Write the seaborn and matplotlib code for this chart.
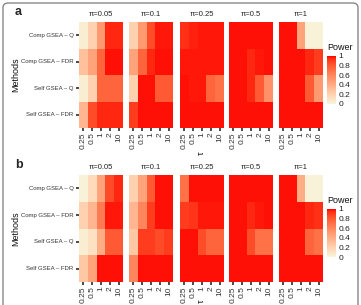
import numpy as np
import pandas as pd
import matplotlib
matplotlib.use('Agg')
import matplotlib.pyplot as plt
import seaborn as sns
from matplotlib.colors import LinearSegmentedColormap, to_rgb
from matplotlib.patches import FancyBboxPatch

# ── Data ──────────────────────────────────────────────────────────────
methods = ['Comp GSEA – Q', 'Comp GSEA – FDR', 'Self GSEA – Q', 'Self GSEA – FDR']
tau_labels = ['0.25', '0.5', '1', '2', '10']
pi_labels = ['π=0.05', 'π=0.1', 'π=0.25', 'π=0.5', 'π=1']

# panel a: rows = methods, columns = tau
a_pi005 = [[0.05, 0.20, 0.50, 0.95, 0.95],
           [0.30, 0.45, 0.75, 0.98, 0.98],
           [0.05, 0.20, 0.75, 0.75, 0.75],
           [0.35, 0.85, 0.95, 0.95, 0.95]]
a_pi01 = [[0.20, 0.50, 0.85, 0.97, 0.97],
          [0.45, 0.75, 0.95, 0.98, 0.98],
          [0.20, 0.98, 0.98, 0.80, 0.80],
          [0.90, 0.98, 0.98, 0.98, 0.98]]
a_pi025 = [[0.93, 0.96, 0.97, 0.97, 0.97],
           [0.97, 0.97, 0.97, 0.97, 0.97],
           [0.98, 0.97, 0.97, 0.75, 0.70],
           [0.98, 0.98, 0.98, 0.98, 0.98]]
a_pi05 = [[0.98, 0.98, 0.98, 0.98, 0.98],
          [0.98, 0.98, 0.95, 0.97, 0.98],
          [0.98, 0.98, 0.95, 0.80, 0.55],
          [0.98, 0.98, 0.98, 0.98, 0.98]]
a_pi1 = [[0.98, 0.98, 0.45, 0.02, 0.02],
         [0.98, 0.98, 0.98, 0.95, 0.90],
         [0.98, 0.98, 0.98, 0.80, 0.50],
         [0.98, 0.98, 0.98, 0.98, 0.98]]

# panel b
b_pi005 = [[0.02, 0.15, 0.45, 0.85, 0.95],
           [0.20, 0.35, 0.65, 0.97, 0.97],
           [0.05, 0.12, 0.40, 0.80, 0.80],
           [0.25, 0.45, 0.98, 0.98, 0.98]]
b_pi01 = [[0.20, 0.45, 0.80, 0.98, 0.98],
          [0.35, 0.60, 0.90, 0.98, 0.98],
          [0.25, 0.90, 0.90, 0.85, 0.90],
          [0.60, 0.98, 0.98, 0.98, 0.98]]
b_pi025 = [[0.70, 0.98, 0.98, 0.98, 0.98],
           [0.90, 0.92, 0.97, 0.97, 0.97],
           [0.98, 0.98, 0.85, 0.75, 0.75],
           [0.98, 0.98, 0.98, 0.98, 0.98]]
b_pi05 = [[0.98, 0.98, 0.98, 0.98, 0.98],
          [0.98, 0.98, 0.95, 0.97, 0.98],
          [0.98, 0.98, 0.85, 0.70, 0.70],
          [0.98, 0.98, 0.98, 0.98, 0.98]]
b_pi1 = [[0.98, 0.98, 0.40, 0.02, 0.02],
         [0.98, 0.98, 0.98, 0.95, 0.93],
         [0.98, 0.98, 0.98, 0.75, 0.70],
         [0.98, 0.98, 0.98, 0.98, 0.98]]

# ── Style ─────────────────────────────────────────────────────────────
sns.set_theme(style='white')
plt.rcParams['font.family'] = ['Liberation Sans', 'DejaVu Sans']

W, H = 361, 305
fig = plt.figure(figsize=(W / 100, H / 100), dpi=100)


def box(x0, y0, x1, y1):
    return [x0 / W, 1 - y1 / H, (x1 - x0) / W, (y1 - y0) / H]


# ── beige -> red gradient, interpolated in Lab like ggplot ────────────
M = np.array([[0.4124, 0.3576, 0.1805],
              [0.2126, 0.7152, 0.0722],
              [0.0193, 0.1192, 0.9505]])
WHITE = np.array([0.95047, 1.0, 1.08883])


def rgb2lab(c):
    c = np.array(c)
    lin = np.where(c <= 0.04045, c / 12.92, ((c + 0.055) / 1.055) ** 2.4)
    xyz = M @ lin / WHITE
    f = np.where(xyz > 0.008856, np.cbrt(xyz), 7.787 * xyz + 16 / 116)
    return np.array([116 * f[1] - 16, 500 * (f[0] - f[1]), 200 * (f[1] - f[2])])


def lab2rgb(lab):
    fy = (lab[0] + 16) / 116
    f = np.array([fy + lab[1] / 500, fy, fy - lab[2] / 200])
    xyz = np.where(f ** 3 > 0.008856, f ** 3, (f - 16 / 116) / 7.787) * WHITE
    lin = np.linalg.solve(M, xyz)
    c = np.where(lin <= 0.0031308, 12.92 * lin, 1.055 * np.clip(lin, 0, None) ** (1 / 2.4) - 0.055)
    return np.clip(c, 0, 1)


lo, hi = rgb2lab(to_rgb('#F5F5DC')), rgb2lab(to_rgb('#FF0000'))
steps = np.linspace(0, 1, 21)
cmap = LinearSegmentedColormap.from_list(
    'power', [lab2rgb(lo + t * (hi - lo)) for t in steps])

facet_left = [79, 129, 180, 229, 279]
facet_w = 44


def draw_panel(letter, facets, top, bottom, tau_y):
    for i, (lab, vals) in enumerate(zip(pi_labels, facets)):
        x0 = facet_left[i]
        ax = fig.add_axes(box(x0, top, x0 + facet_w, bottom))
        df = pd.DataFrame(vals, index=methods, columns=tau_labels)
        last = i == len(facets) - 1
        kw = {}
        if last:
            cax = fig.add_axes(box(327, top + 34, 336, top + 82))
            kw = dict(cbar_ax=cax)
        sns.heatmap(df, ax=ax, cmap=cmap, vmin=0, vmax=1, cbar=last,
                    linewidths=0, xticklabels=True, yticklabels=True, **kw)
        ax.set_title(lab, fontsize=5.5, pad=4, color='#222222')
        ax.tick_params(axis='x', labelsize=6, rotation=90, length=2,
                       pad=1, colors='#333333', bottom=True)
        ax.set_xlabel('')
        ax.set_ylabel('')
        if i == 0:
            ax.tick_params(axis='y', labelsize=4.3, rotation=0, length=2,
                           pad=2, colors='#333333', left=True)
        else:
            ax.set_yticks([])
        if last:
            cb = ax.collections[0].colorbar
            cb.set_ticks([0, 0.2, 0.4, 0.6, 0.8, 1])
            cb.set_ticklabels(['0', '0.2', '0.4', '0.6', '0.8', '1'])
            cb.ax.tick_params(labelsize=6, length=0, pad=2, colors='#222222')
            cb.outline.set_visible(False)
            fig.text(327 / W, 1 - (top + 30) / H, 'Power', fontsize=6.5,
                     ha='left', va='bottom', color='#111111')
    fig.text(16 / W, 1 - (top + bottom) / 2 / H, 'Methods', fontsize=6.5,
             rotation=90, ha='center', va='center', color='#111111')
    fig.text(201 / W, 1 - tau_y / H, 'τ', fontsize=6.5, rotation=90,
             ha='center', va='center', color='#111111')
    fig.text(15 / W, 1 - (top - 10) / H, letter, fontsize=9,
             fontweight='bold', ha='left', va='center')


draw_panel('a', [a_pi005, a_pi01, a_pi025, a_pi05, a_pi1], 22, 128, 153)
draw_panel('b', [b_pi005, b_pi01, b_pi025, b_pi05, b_pi1], 175, 282, 301)

# rounded frame around the figure
frame = FancyBboxPatch((3 / W, -0.05), 1 - 6 / W, 1.05 - 3 / H,
                       boxstyle='round,pad=0,rounding_size=0.015',
                       transform=fig.transFigure, fill=False,
                       edgecolor='#888888', linewidth=1.0)
fig.patches.append(frame)

fig.savefig('out.png', dpi=100)
